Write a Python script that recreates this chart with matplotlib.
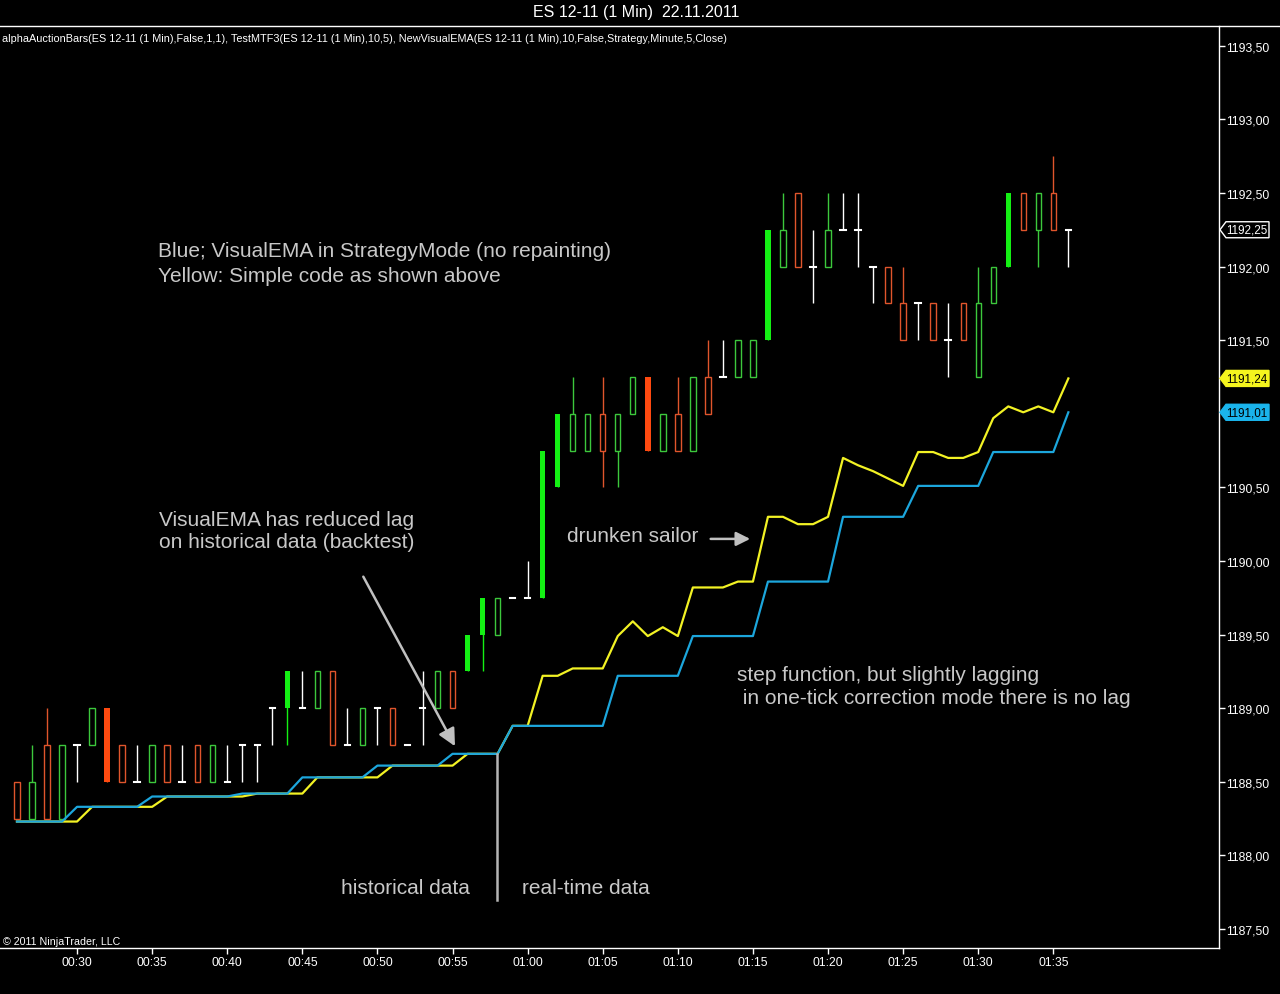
import numpy as np
import matplotlib.pyplot as plt
from matplotlib.patches import Rectangle, Polygon
from matplotlib.lines import Line2D
from matplotlib.transforms import IdentityTransform

plt.rcParams['font.family'] = ['Liberation Sans', 'DejaVu Sans']

# [1] 데이터 - ES 12-11 1분봉 (분 단위, 00:26 ~ 01:36)
minutes = np.arange(26, 97)
opens = [1188.50, 1188.25, 1188.75, 1188.25, 1188.75, 1188.75, 1189.00, 1188.75, 1188.50, 1188.50,
         1188.75, 1188.50, 1188.75, 1188.50, 1188.50, 1188.75, 1188.75, 1189.00, 1189.00, 1189.00,
         1189.00, 1189.25, 1188.75, 1188.75, 1189.00, 1189.00, 1188.75, 1189.00, 1189.00, 1189.25,
         1189.25, 1189.50, 1189.50, 1189.75, 1189.75, 1189.75, 1190.50, 1190.75, 1190.75, 1191.00,
         1190.75, 1191.00, 1191.25, 1190.75, 1191.00, 1190.75, 1191.25, 1191.25, 1191.25, 1191.25,
         1191.50, 1192.00, 1192.50, 1192.00, 1192.00, 1192.25, 1192.25, 1192.00, 1192.00, 1191.75,
         1191.75, 1191.75, 1191.50, 1191.75, 1191.25, 1191.75, 1192.00, 1192.50, 1192.25, 1192.50,
         1192.25]
highs = [1188.50, 1188.75, 1189.00, 1188.75, 1188.75, 1189.00, 1189.00, 1188.75, 1188.75, 1188.75,
         1188.75, 1188.75, 1188.75, 1188.75, 1188.75, 1188.75, 1188.75, 1189.00, 1189.25, 1189.25,
         1189.25, 1189.25, 1189.00, 1189.00, 1189.00, 1189.00, 1188.75, 1189.25, 1189.25, 1189.25,
         1189.50, 1189.75, 1189.75, 1189.75, 1190.00, 1190.75, 1191.00, 1191.25, 1191.00, 1191.25,
         1191.00, 1191.25, 1191.25, 1191.00, 1191.25, 1191.25, 1191.50, 1191.50, 1191.50, 1191.50,
         1192.25, 1192.50, 1192.50, 1192.25, 1192.50, 1192.50, 1192.50, 1192.00, 1192.00, 1192.00,
         1191.75, 1191.75, 1191.75, 1191.75, 1192.00, 1192.00, 1192.50, 1192.50, 1192.50, 1192.75,
         1192.25]
lows = [1188.25, 1188.25, 1188.25, 1188.25, 1188.50, 1188.75, 1188.50, 1188.50, 1188.50, 1188.50,
        1188.50, 1188.50, 1188.50, 1188.50, 1188.50, 1188.50, 1188.50, 1188.75, 1188.75, 1189.00,
        1189.00, 1188.75, 1188.75, 1188.75, 1188.75, 1188.75, 1188.75, 1188.75, 1189.00, 1189.00,
        1189.25, 1189.25, 1189.50, 1189.75, 1189.75, 1189.75, 1190.50, 1190.75, 1190.75, 1190.50,
        1190.50, 1191.00, 1190.75, 1190.75, 1190.75, 1190.75, 1191.00, 1191.25, 1191.25, 1191.25,
        1191.50, 1192.00, 1192.00, 1191.75, 1192.00, 1192.25, 1192.00, 1191.75, 1191.75, 1191.50,
        1191.50, 1191.50, 1191.25, 1191.50, 1191.25, 1191.75, 1192.00, 1192.25, 1192.00, 1192.25,
        1192.00]
closes = [1188.25, 1188.50, 1188.25, 1188.75, 1188.75, 1189.00, 1188.50, 1188.50, 1188.50, 1188.75,
          1188.50, 1188.50, 1188.50, 1188.75, 1188.50, 1188.75, 1188.75, 1189.00, 1189.25, 1189.00,
          1189.25, 1188.75, 1188.75, 1189.00, 1189.00, 1188.75, 1188.75, 1189.00, 1189.25, 1189.00,
          1189.50, 1189.75, 1189.75, 1189.75, 1189.75, 1190.75, 1191.00, 1191.00, 1191.00, 1190.75,
          1191.00, 1191.25, 1190.75, 1191.00, 1190.75, 1191.25, 1191.00, 1191.25, 1191.50, 1191.50,
          1192.25, 1192.25, 1192.00, 1192.00, 1192.25, 1192.25, 1192.25, 1192.00, 1191.75, 1191.50,
          1191.75, 1191.50, 1191.50, 1191.50, 1191.75, 1192.00, 1192.50, 1192.25, 1192.50, 1192.25,
          1192.25]
# alphaAuctionBars 채움 여부
filled = [0, 0, 0, 0, 0, 0, 1, 0, 0, 0, 0, 0, 0, 0, 0, 0, 0, 0, 1, 0,
          0, 0, 0, 0, 0, 0, 0, 0, 0, 0, 1, 1, 0, 0, 0, 1, 1, 0, 0, 0,
          0, 0, 1, 0, 0, 0, 0, 0, 0, 0, 1, 0, 0, 0, 0, 0, 0, 0, 0, 0,
          0, 0, 0, 0, 0, 0, 1, 0, 0, 0, 0]

# VisualEMA (파랑) / 단순 코드 (노랑)
ema_blue = [1188.23, 1188.23, 1188.23, 1188.23, 1188.33, 1188.33, 1188.33, 1188.33, 1188.33, 1188.40,
            1188.40, 1188.40, 1188.40, 1188.40, 1188.40, 1188.42, 1188.42, 1188.42, 1188.42, 1188.53,
            1188.53, 1188.53, 1188.53, 1188.53, 1188.61, 1188.61, 1188.61, 1188.61, 1188.61, 1188.69,
            1188.69, 1188.69, 1188.69, 1188.88, 1188.88, 1188.88, 1188.88, 1188.88, 1188.88, 1188.88,
            1189.22, 1189.22, 1189.22, 1189.22, 1189.22, 1189.49, 1189.49, 1189.49, 1189.49, 1189.49,
            1189.86, 1189.86, 1189.86, 1189.86, 1189.86, 1190.30, 1190.30, 1190.30, 1190.30, 1190.30,
            1190.51, 1190.51, 1190.51, 1190.51, 1190.51, 1190.74, 1190.74, 1190.74, 1190.74, 1190.74,
            1191.01]
ema_yellow = [1188.23, 1188.23, 1188.23, 1188.23, 1188.23, 1188.33, 1188.33, 1188.33, 1188.33, 1188.33,
              1188.40, 1188.40, 1188.40, 1188.40, 1188.40, 1188.40, 1188.42, 1188.42, 1188.42, 1188.42,
              1188.53, 1188.53, 1188.53, 1188.53, 1188.53, 1188.61, 1188.61, 1188.61, 1188.61, 1188.61,
              1188.69, 1188.69, 1188.69, 1188.88, 1188.88, 1189.22, 1189.22, 1189.27, 1189.27, 1189.27,
              1189.49, 1189.59, 1189.49, 1189.55, 1189.49, 1189.82, 1189.82, 1189.82, 1189.86, 1189.86,
              1190.30, 1190.30, 1190.25, 1190.25, 1190.30, 1190.70, 1190.65, 1190.61, 1190.56, 1190.51,
              1190.74, 1190.74, 1190.70, 1190.70, 1190.74, 1190.97, 1191.05, 1191.01, 1191.05, 1191.01,
              1191.24]

tick_minutes = [30, 35, 40, 45, 50, 55, 60, 65, 70, 75, 80, 85, 90, 95]
tick_labels = ['00:30', '00:35', '00:40', '00:45', '00:50', '00:55', '01:00',
               '01:05', '01:10', '01:15', '01:20', '01:25', '01:30', '01:35']
price_ticks = [1187.5, 1188.0, 1188.5, 1189.0, 1189.5, 1190.0, 1190.5,
               1191.5, 1192.0, 1192.5, 1193.0, 1193.5]

# 색상
GREEN_H = '#3cc83c'
GREEN_F = '#14f014'
RED_H = '#e0552c'
RED_F = '#ff4a10'
TXT = '#c8c8c8'

# [2] 그림
fig = plt.figure(figsize=(12.8, 9.95), dpi=100, facecolor='black')
ax = fig.add_axes([0, 46 / 995, 1219 / 1280, 922 / 995], facecolor='black')
ax.set_xlim(24.87, 106.03)
ax.set_ylim(1187.371, 1193.634)

w = 0.36
for t, o, h, l, c, f in zip(minutes, opens, highs, lows, closes, filled):
    if c > o:
        col = GREEN_F if f else GREEN_H
    elif c < o:
        col = RED_F if f else RED_H
    else:
        col = 'white'
    ax.plot([t, t], [l, h], color=col, lw=1, solid_capstyle='butt', zorder=2)
    if c == o:
        ax.plot([t - w / 2, t + w / 2], [o, o], color=col, lw=1.5, zorder=3)
    elif f:
        ax.add_patch(Rectangle((t - w / 2, min(o, c)), w, abs(c - o),
                               facecolor=col, edgecolor='none', zorder=3))
    else:
        ax.add_patch(Rectangle((t - w / 2, min(o, c)), w, abs(c - o),
                               facecolor='black', edgecolor=col, lw=1, zorder=3))

ax.plot(minutes, ema_yellow, color='#f2f224', lw=1.6, zorder=4)
ax.plot(minutes, ema_blue, color='#1ca6dc', lw=1.6, zorder=5)

# 축 스타일
for s in ['top', 'left']:
    ax.spines[s].set_visible(False)
for s in ['bottom', 'right']:
    ax.spines[s].set_color('white')
    ax.spines[s].set_linewidth(1)
ax.yaxis.tick_right()
ax.set_yticks(price_ticks)
ax.set_yticklabels([f'{p:.2f}'.replace('.', ',') for p in price_ticks])
ax.set_xticks(tick_minutes)
ax.set_xticklabels(tick_labels)
ax.tick_params(colors='white', labelcolor='white', labelsize=8.7, length=4, width=1, direction='out')
ax.tick_params(axis='y', pad=1)
ax.tick_params(axis='x', pad=2)

# 상단 선, 제목
fig.add_artist(Line2D([0, 1], [1 - 27 / 995] * 2, transform=fig.transFigure, color='white', lw=1))
fig.text(636 / 1280, 1 - 13 / 995, 'ES 12-11 (1 Min)  22.11.2011', color='white',
         ha='center', va='center', fontsize=11.5)
ax.text(0.002, 1 - 12 / 922,
        'alphaAuctionBars(ES 12-11 (1 Min),False,1,1), TestMTF3(ES 12-11 (1 Min),10,5), '
        'NewVisualEMA(ES 12-11 (1 Min),10,False,Strategy,Minute,5,Close)',
        transform=ax.transAxes, color='white', fontsize=7.85, va='center', ha='left')
fig.text(3 / 1280, 1 - 942 / 995, '© 2011 NinjaTrader, LLC', color='white',
         fontsize=7.7, va='center', ha='left')

# 주석
fs = 15
ax.text(35.39, 1192.11, 'Blue; VisualEMA in StrategyMode (no repainting)', color=TXT, fontsize=fs, va='center')
ax.text(35.39, 1191.94, 'Yellow: Simple code as shown above', color=TXT, fontsize=fs, va='center')
ax.text(35.45, 1190.285, 'VisualEMA has reduced lag', color=TXT, fontsize=fs, va='center')
ax.text(35.45, 1190.13, 'on historical data (backtest)', color=TXT, fontsize=fs, va='center')
ax.text(62.62, 1190.17, 'drunken sailor', color=TXT, fontsize=fs, va='center')
ax.text(73.94, 1189.23, 'step function, but slightly lagging', color=TXT, fontsize=fs, va='center')
ax.text(73.94, 1189.07, ' in one-tick correction mode there is no lag', color=TXT, fontsize=fs, va='center')
ax.text(47.57, 1187.785, 'historical data', color=TXT, fontsize=fs, va='center')
ax.text(59.62, 1187.785, 'real-time data', color=TXT, fontsize=fs, va='center')

ax.annotate('', xy=(75.0, 1190.15), xytext=(72.0, 1190.15),
            arrowprops=dict(arrowstyle='-|>', color='#c0c0c0', lw=1.8, mutation_scale=21))
ax.annotate('', xy=(55.25, 1188.725), xytext=(48.97, 1189.91),
            arrowprops=dict(arrowstyle='-|>', color='#c0c0c0', lw=1.8, mutation_scale=26))
ax.plot([57.96, 57.96], [1188.69, 1187.70], color='#b4b4b4', lw=1.8, zorder=6)

# 가격 태그
def price_tag(value, fc, ec, tc):
    y = ax.transData.transform((minutes[0], value))[1]
    x0 = 1220
    pts = [(x0, y), (x0 + 6, y + 8), (x0 + 49, y + 8), (x0 + 49, y - 8), (x0 + 6, y - 8)]
    fig.add_artist(Polygon(pts, closed=True, facecolor=fc, edgecolor=ec, lw=1,
                           transform=IdentityTransform()))
    fig.text(x0 + 27, y, f'{value:.2f}'.replace('.', ','), color=tc, fontsize=8.4,
             ha='center', va='center', transform=IdentityTransform())

price_tag(closes[-1], 'black', 'white', 'white')
price_tag(ema_yellow[-1], '#f5f51e', '#f5f51e', 'black')
price_tag(ema_blue[-1], '#1ab4ec', '#1ab4ec', 'black')

fig.savefig('out.png', dpi=100, facecolor='black')
